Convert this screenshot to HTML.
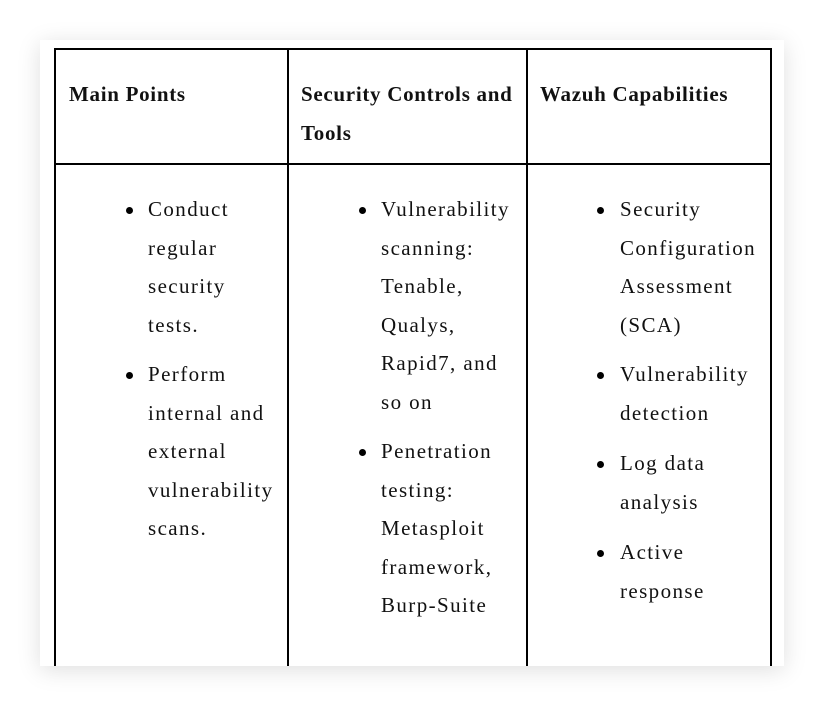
<!DOCTYPE html>
<html><head><style>
html,body{margin:0;padding:0;background:#fff;width:824px;height:706px;overflow:hidden;position:relative}
.card{position:absolute;left:40px;top:40px;width:744px;height:626px;background:#fff;box-shadow:0 4px 22px rgba(0,0,0,0.13)}
.v{position:absolute;top:48px;width:2px;height:618px;background:#000}
.h{position:absolute;left:54px;width:718px;height:2px;background:#000}
.t{position:absolute;font-family:"Liberation Serif",serif;font-size:21px;color:#111;white-space:nowrap;line-height:38.6px;letter-spacing:1.4px}
.b{font-weight:bold;letter-spacing:0.7px}
.dot{position:absolute;width:7px;height:7px;border-radius:50%;background:#000}
</style></head><body>
<div class="card"></div>
<div class="v" style="left:54px"></div>
<div class="v" style="left:287px"></div>
<div class="v" style="left:526px"></div>
<div class="v" style="left:770px"></div>
<div class="h" style="top:48px"></div>
<div class="h" style="top:163px"></div>

<div class="t b" style="left:69px;top:75px">Main Points</div>
<div class="t b" style="left:301px;top:75px">Security Controls and<br>Tools</div>
<div class="t b" style="left:540px;top:75px">Wazuh Capabilities</div>

<div class="dot" style="left:126px;top:207px"></div>
<div class="t" style="left:148px;top:190px">Conduct<br>regular<br>security<br>tests.</div>
<div class="dot" style="left:126px;top:372px"></div>
<div class="t" style="left:148px;top:355px">Perform<br>internal and<br>external<br>vulnerability<br>scans.</div>

<div class="dot" style="left:359px;top:207px"></div>
<div class="t" style="left:381px;top:190px">Vulnerability<br>scanning:<br>Tenable,<br>Qualys,<br>Rapid7, and<br>so on</div>
<div class="dot" style="left:359px;top:449px"></div>
<div class="t" style="left:381px;top:432px">Penetration<br>testing:<br>Metasploit<br>framework,<br>Burp-Suite</div>

<div class="dot" style="left:597px;top:207px"></div>
<div class="t" style="left:620px;top:190px">Security<br>Configuration<br>Assessment<br>(SCA)</div>
<div class="dot" style="left:597px;top:372px"></div>
<div class="t" style="left:620px;top:355px">Vulnerability<br>detection</div>
<div class="dot" style="left:597px;top:461px"></div>
<div class="t" style="left:620px;top:444px">Log data<br>analysis</div>
<div class="dot" style="left:597px;top:550px"></div>
<div class="t" style="left:620px;top:533px">Active<br>response</div>
</body></html>
